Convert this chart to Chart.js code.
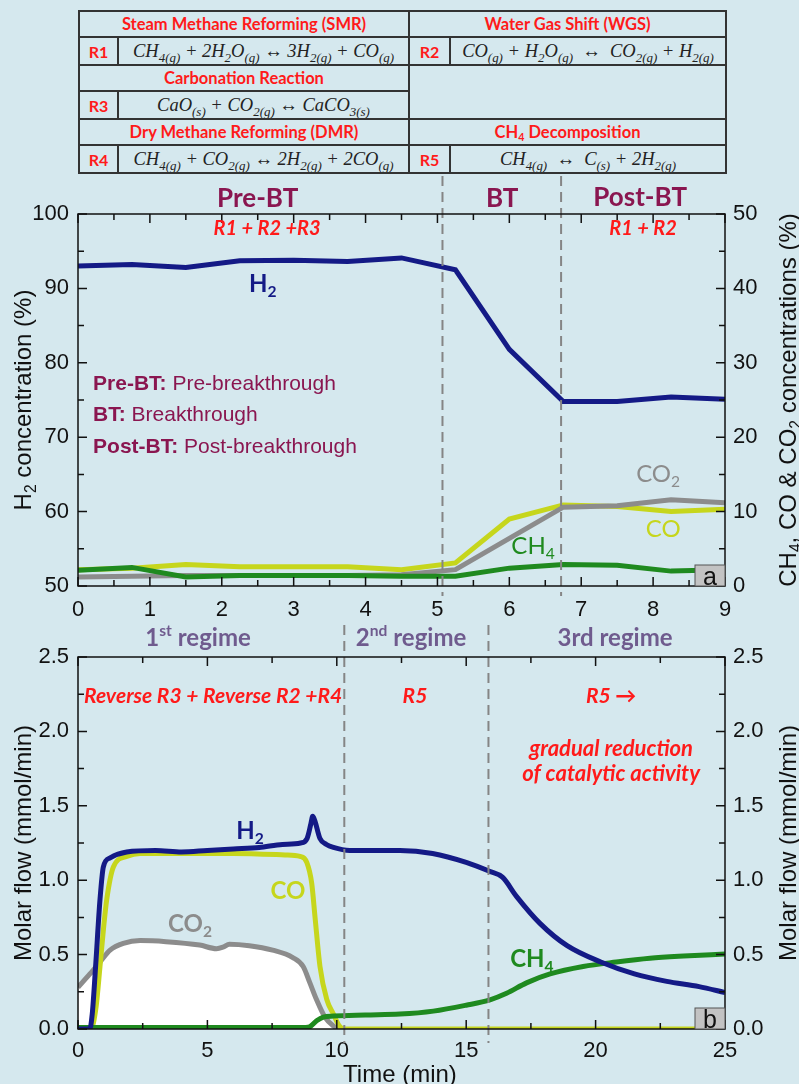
<!DOCTYPE html>
<html>
<head>
<meta charset="utf-8">
<script src="https://cdn.jsdelivr.net/npm/chart.js@4.4.1/dist/chart.umd.min.js"></script>
<style>
  body { margin: 0; background: #d5e8ee; }
  #wrap { position: relative; width: 799px; height: 1084px; background: #d5e8ee; overflow: hidden; }
  #rx { position: absolute; left: 78px; top: 10px; width: 647px; border-collapse: collapse; table-layout: fixed; }
  #rx td { border: 2px solid #333; padding: 0; text-align: center; white-space: nowrap; overflow: hidden; }
  #rx .hd { color: #ff1a1a; font: bold 16.5px Lato, sans-serif; height: 24px; }
  #rx .rn { color: #ff1a1a; font: bold 16px Lato, sans-serif; }
  #rx .eq { font: italic 18.5px "Liberation Serif", serif; color: #222; height: 26px; }
  #rx .eq sub { font-size: 70%; vertical-align: -0.4em; line-height: 0; }
  #rx .hd sub { font-size: 65%; vertical-align: -0.3em; line-height: 0; }
  .box { position: absolute; left: 0; width: 799px; }
</style>
</head>
<body>
<div id="wrap">
  <table id="rx">
    <colgroup><col style="width:39px"><col style="width:291px"><col style="width:41px"><col style="width:276px"></colgroup>
    <tr><td colspan="2" class="hd">Steam Methane Reforming (SMR)</td><td colspan="2" class="hd">Water Gas Shift (WGS)</td></tr>
    <tr><td class="rn">R1</td><td class="eq">CH<sub>4(g)</sub> + 2H<sub>2</sub>O<sub>(g)</sub> ↔ 3H<sub>2(g)</sub> + CO<sub>(g)</sub></td>
        <td class="rn">R2</td><td class="eq">CO<sub>(g)</sub> + H<sub>2</sub>O<sub>(g)</sub> &nbsp;↔&nbsp; CO<sub>2(g)</sub> + H<sub>2(g)</sub></td></tr>
    <tr><td colspan="2" class="hd">Carbonation Reaction</td><td colspan="2" rowspan="2"></td></tr>
    <tr><td class="rn">R3</td><td class="eq">CaO<sub>(s)</sub> + CO<sub>2(g)</sub> ↔ CaCO<sub>3(s)</sub></td></tr>
    <tr><td colspan="2" class="hd">Dry Methane Reforming (DMR)</td><td colspan="2" class="hd">CH<sub>4</sub> Decomposition</td></tr>
    <tr><td class="rn">R4</td><td class="eq">CH<sub>4(g)</sub> + CO<sub>2(g)</sub> ↔ 2H<sub>2(g)</sub> + 2CO<sub>(g)</sub></td>
        <td class="rn">R5</td><td class="eq">CH<sub>4(g)</sub> &nbsp;↔&nbsp; C<sub>(s)</sub> + 2H<sub>2(g)</sub></td></tr>
  </table>
  <div class="box" style="top:176px;height:444px"><canvas id="concChart" width="799" height="444"></canvas></div>
  <div class="box" style="top:620px;height:464px"><canvas id="flowChart" width="799" height="464"></canvas></div>
</div>
<script>
// (a) gas concentrations vs time
const concTime = [0, 0.75, 1.5, 2.25, 3, 3.75, 4.5, 5.25, 6, 6.75, 7.5, 8.25, 9];
const concH2 = [93.0, 93.2, 92.8, 93.7, 93.8, 93.6, 94.1, 92.5, 81.8, 74.8, 74.8, 75.4, 75.1];
const concCO = [2.2, 2.4, 2.9, 2.6, 2.6, 2.6, 2.2, 3.1, 9.0, 10.9, 10.7, 10.0, 10.3];
const concCO2 = [1.2, 1.3, 1.4, 1.4, 1.4, 1.4, 1.5, 2.2, 6.4, 10.6, 10.8, 11.6, 11.2];
const concCH4 = [2.1, 2.5, 1.2, 1.4, 1.4, 1.4, 1.3, 1.3, 2.4, 2.9, 2.8, 2.0, 2.2];
const concPhases = [5.07, 6.72];

// (b) molar flows vs time
const flowTimeH2 = [0, 0.45, 0.55, 0.68, 0.85, 0.98, 1.24, 1.88, 3.0, 4.0, 5.0, 6.0, 7.0, 7.9, 8.6, 8.85, 9.0, 9.07, 9.15, 9.35, 9.6, 9.87, 10.5, 11.5, 12.44, 13.7, 15.0, 15.9, 16.4, 16.95, 17.85, 18.9, 20.2, 21.5, 22.75, 24.0, 25];
const flowH2 = [0, 0, 0.1, 0.42, 0.87, 1.09, 1.15, 1.19, 1.2, 1.19, 1.2, 1.21, 1.22, 1.24, 1.25, 1.28, 1.38, 1.43, 1.4, 1.28, 1.24, 1.22, 1.2, 1.2, 1.2, 1.18, 1.12, 1.06, 1.02, 0.89, 0.71, 0.56, 0.45, 0.37, 0.32, 0.285, 0.245];
const flowTimeCO = [0, 0.5, 0.7, 0.85, 1.0, 1.11, 1.37, 1.88, 2.4, 4, 6, 8, 8.58, 8.84, 9.03, 9.16, 9.35, 9.61, 9.87, 10.1, 10.3, 25];
const flowCO = [0, 0, 0.15, 0.42, 0.7, 0.87, 1.09, 1.16, 1.18, 1.18, 1.18, 1.17, 1.16, 1.12, 0.98, 0.75, 0.42, 0.2, 0.1, 0.02, 0, 0];
const flowTimeCO2 = [0, 0.46, 0.85, 1.24, 1.75, 2.4, 3.4, 4.7, 5.35, 5.6, 5.85, 6.62, 7.52, 8.3, 8.7, 8.96, 9.22, 9.54, 9.87, 10.1, 10.3];
const flowCO2 = [0.28, 0.37, 0.45, 0.53, 0.575, 0.594, 0.587, 0.564, 0.54, 0.55, 0.57, 0.56, 0.53, 0.48, 0.42, 0.31, 0.196, 0.08, 0.02, 0, 0];
const flowTimeCH4 = [0, 8.8, 8.96, 9.22, 9.48, 9.87, 11.1, 12.44, 13.73, 15.0, 15.92, 16.56, 17.33, 18.24, 19.52, 20.8, 22.1, 23.4, 25];
const flowCH4 = [0.01, 0.01, 0.015, 0.055, 0.08, 0.087, 0.094, 0.1, 0.12, 0.16, 0.196, 0.24, 0.31, 0.37, 0.42, 0.45, 0.475, 0.49, 0.504];
const flowRegimes = [10.29, 15.86];

const C_H2 = '#141a86', C_CO = '#c6d61c', C_CO2 = '#8c8c8c', C_CH4 = '#1f8a1f';
const PHASE = '#8a1650', REGIME = '#6f5b8e', RED = '#ff1a1a';
const TICK_FONT = { family: 'Liberation Sans', size: 22 };

function pts(xs, ys) {
  return xs.map((x, i) => ({ x: x, y: ys[i] }));
}

function richRuns(str) {
  const runs = [];
  const re = /([_^])\{([^}]*)\}|([^_^]+)/g;
  let m;
  while ((m = re.exec(str))) {
    if (m[1]) runs.push({ t: m[2], sub: m[1] === '_', sup: m[1] === '^' });
    else runs.push({ t: m[3] });
  }
  return runs;
}

// draws text with sub/superscripts, y is the visual middle of the capitals
function drawText(ctx, str, x, y, o) {
  const runs = typeof str === 'string' ? richRuns(str) : str;
  const size = o.size;
  const fontOf = r => {
    const s = (r.sub || r.sup) ? size * 0.65 : size;
    const bold = r.bold !== undefined ? r.bold : o.bold;
    return `${o.italic ? 'italic ' : ''}${bold ? 'bold' : 'normal'} ${s}px ${o.family || 'Lato'}`;
  };
  let total = 0;
  runs.forEach(r => { ctx.font = fontOf(r); r.w = ctx.measureText(r.t).width; total += r.w; });
  let cx = o.align === 'left' ? x : o.align === 'right' ? x - total : x - total / 2;
  const base = y + size * 0.36;
  ctx.fillStyle = o.color || '#111';
  ctx.textAlign = 'left';
  ctx.textBaseline = 'alphabetic';
  runs.forEach(r => {
    ctx.font = fontOf(r);
    let by = base;
    if (r.sub) by += size * 0.22;
    if (r.sup) by -= size * 0.42;
    ctx.fillText(r.t, cx, by);
    cx += r.w;
  });
}

function decor(spec) {
  return {
    id: 'decor',
    afterDraw(chart) {
      const ctx = chart.ctx;
      const a = chart.chartArea;
      const sx = chart.scales.x, sy = chart.scales.y;
      ctx.save();

      // dashed region separators
      ctx.strokeStyle = '#858585';
      ctx.lineWidth = 2;
      ctx.setLineDash([10, 6]);
      spec.dashes.forEach(v => {
        const px = sx.getPixelForValue(v);
        ctx.beginPath();
        ctx.moveTo(px, spec.dashTop);
        ctx.lineTo(px, a.bottom + spec.dashBelow);
        ctx.stroke();
      });
      ctx.setLineDash([]);

      // inward ticks
      ctx.strokeStyle = '#111';
      ctx.lineWidth = 1.5;
      const n = Math.round((sx.max - sx.min) / spec.xMinor);
      for (let i = 0; i <= n; i++) {
        const px = sx.getPixelForValue(sx.min + i * spec.xMinor);
        const len = i % 2 === 0 ? 9 : 6;
        ctx.beginPath();
        ctx.moveTo(px, a.bottom); ctx.lineTo(px, a.bottom - len);
        ctx.moveTo(px, a.top); ctx.lineTo(px, a.top + len);
        ctx.stroke();
      }
      const m = Math.round((sy.max - sy.min) / spec.yMinor);
      for (let i = 0; i <= m; i++) {
        const py = sy.getPixelForValue(sy.min + i * spec.yMinor);
        const len = i % 2 === 0 ? 9 : 6;
        ctx.beginPath();
        ctx.moveTo(a.left, py); ctx.lineTo(a.left + len, py);
        ctx.moveTo(a.right, py); ctx.lineTo(a.right - len, py);
        ctx.stroke();
      }
      ctx.strokeRect(a.left, a.top, a.right - a.left, a.bottom - a.top);

      // panel letter box
      ctx.fillStyle = '#c3c3c3';
      ctx.fillRect(a.right - 30, a.bottom - 21, 30, 21);
      ctx.lineWidth = 1;
      ctx.strokeStyle = '#555';
      ctx.strokeRect(a.right - 30, a.bottom - 21, 30, 21);
      drawText(ctx, spec.letter, a.right - 15, a.bottom - 10, { size: 25, family: 'Liberation Sans' });

      // annotations in data coordinates
      spec.notes.forEach(nt => {
        drawText(ctx, nt.t, sx.getPixelForValue(nt.x), sy.getPixelForValue(nt.y), nt);
      });

      // axis titles
      const mid = (a.top + a.bottom) / 2;
      [[spec.leftTitle, 22], [spec.rightTitle, 787]].forEach(([t, px]) => {
        ctx.save();
        ctx.translate(px, mid);
        ctx.rotate(-Math.PI / 2);
        drawText(ctx, t, 0, 0, { size: 24, family: 'Liberation Sans' });
        ctx.restore();
      });
      if (spec.xTitle) {
        drawText(ctx, spec.xTitle.t, sx.getPixelForValue(spec.xTitle.x), sy.getPixelForValue(spec.xTitle.y), { size: 24, family: 'Liberation Sans' });
      }
      ctx.restore();
    }
  };
}

function axis(min, max, step, pos, width, pad, fmt) {
  return {
    type: 'linear', position: pos, min: min, max: max,
    grid: { display: false, drawTicks: false },
    border: { display: false },
    ticks: { stepSize: step, font: TICK_FONT, color: '#111', padding: pad, callback: fmt || (v => v) },
    afterFit: s => { if (pos === 'bottom') s.height = width; else s.width = width; }
  };
}

function line(label, data, color, yAxis, smooth, order) {
  return {
    label: label, data: data, yAxisID: yAxis,
    borderColor: color, borderWidth: 5, pointRadius: 0, fill: false,
    cubicInterpolationMode: smooth ? 'monotone' : 'default', tension: 0, order: order
  };
}

const concNotes = [
  { t: 'Pre-BT', x: 2.5, y: 102.15, size: 26, bold: true, color: PHASE },
  { t: 'BT', x: 5.9, y: 102.15, size: 26, bold: true, color: PHASE },
  { t: 'Post-BT', x: 7.82, y: 102.3, size: 26, bold: true, color: PHASE },
  { t: 'R1 + R2 +R3', x: 2.63, y: 98.1, size: 20, bold: true, italic: true, color: RED },
  { t: 'R1 + R2', x: 7.86, y: 98.1, size: 20, bold: true, italic: true, color: RED },
  { t: 'H_{2}', x: 2.57, y: 90.7, size: 24, bold: true, color: C_H2 },
  { t: [{ t: 'Pre-BT:', bold: true }, { t: ' Pre-breakthrough', bold: false }], x: 0.21, y: 77.3, size: 21, family: 'Liberation Sans', align: 'left', color: PHASE },
  { t: [{ t: 'BT:', bold: true }, { t: ' Breakthrough', bold: false }], x: 0.21, y: 73.25, size: 21, family: 'Liberation Sans', align: 'left', color: PHASE },
  { t: [{ t: 'Post-BT:', bold: true }, { t: ' Post-breakthrough', bold: false }], x: 0.21, y: 68.95, size: 21, family: 'Liberation Sans', align: 'left', color: PHASE },
  { t: 'CO_{2}', x: 8.07, y: 65.2, size: 24, color: C_CO2 },
  { t: 'CO', x: 8.14, y: 57.8, size: 24, color: C_CO },
  { t: 'CH_{4}', x: 6.33, y: 55.5, size: 24, color: C_CH4 }
];

const flowNotes = [
  { t: '1^{st} regime', x: 4.64, y: 2.63, size: 24, bold: true, color: REGIME },
  { t: '2^{nd} regime', x: 12.87, y: 2.63, size: 24, bold: true, color: REGIME },
  { t: '3rd regime', x: 20.75, y: 2.63, size: 24, bold: true, color: REGIME },
  { t: 'Reverse R3 + Reverse R2 +R4', x: 5.22, y: 2.245, size: 21, bold: true, italic: true, color: RED },
  { t: 'R5', x: 13.02, y: 2.245, size: 21, bold: true, italic: true, color: RED },
  { t: 'R5 \u2192', x: 20.6, y: 2.245, size: 21, bold: true, italic: true, color: RED },
  { t: 'gradual reduction', x: 20.6, y: 1.89, size: 22, bold: true, italic: true, color: RED },
  { t: 'of catalytic activity', x: 20.6, y: 1.72, size: 22, bold: true, italic: true, color: RED },
  { t: 'H_{2}', x: 6.65, y: 1.337, size: 24, bold: true, color: C_H2 },
  { t: 'CO', x: 8.11, y: 0.934, size: 24, bold: true, color: C_CO },
  { t: 'CO_{2}', x: 4.33, y: 0.712, size: 24, bold: true, color: C_CO2 },
  { t: 'CH_{4}', x: 17.54, y: 0.477, size: 24, bold: true, color: C_CH4 }
];

new Chart(document.getElementById('concChart'), {
  type: 'line',
  data: {
    datasets: [
      line('H2', pts(concTime, concH2), C_H2, 'y', false, 1),
      line('CH4', pts(concTime, concCH4), C_CH4, 'y2', false, 2),
      line('CO2', pts(concTime, concCO2), C_CO2, 'y2', false, 3),
      line('CO', pts(concTime, concCO), C_CO, 'y2', false, 4)
    ]
  },
  options: {
    responsive: false, animation: false,
    layout: { padding: { top: 38, left: 0, right: 0, bottom: 0 } },
    plugins: { legend: { display: false }, tooltip: { enabled: false } },
    scales: {
      x: axis(0, 9, 1, 'bottom', 34, 11),
      y: axis(50, 100, 10, 'left', 78, 9),
      y2: axis(0, 50, 10, 'right', 74, 8)
    }
  },
  plugins: [decor({
    dashes: concPhases, dashTop: 0, dashBelow: 10, xMinor: 0.5, yMinor: 5, letter: 'a',
    notes: concNotes,
    leftTitle: 'H_{2} concentration (%)',
    rightTitle: 'CH_{4}, CO & CO_{2} concentrations (%)'
  })]
});

const oneDec = v => v.toFixed(1);
new Chart(document.getElementById('flowChart'), {
  type: 'line',
  data: {
    datasets: [
      line('H2', pts(flowTimeH2, flowH2), C_H2, 'y', true, 1),
      line('CH4', pts(flowTimeCH4, flowCH4), C_CH4, 'y', true, 2),
      line('CO', pts(flowTimeCO, flowCO), C_CO, 'y', true, 3),
      Object.assign(line('CO2', pts(flowTimeCO2, flowCO2), C_CO2, 'y', true, 4), { fill: 'origin', backgroundColor: '#ffffff' })
    ]
  },
  options: {
    responsive: false, animation: false,
    layout: { padding: { top: 37, left: 0, right: 0, bottom: 0 } },
    plugins: { legend: { display: false }, tooltip: { enabled: false }, filler: { drawTime: 'beforeDatasetsDraw' } },
    scales: {
      x: axis(0, 25, 5, 'bottom', 55, 9),
      y: axis(0, 2.5, 0.5, 'left', 78, 9, oneDec),
      y2: axis(0, 2.5, 0.5, 'right', 74, 8, oneDec)
    }
  },
  plugins: [decor({
    dashes: flowRegimes, dashTop: 5, dashBelow: 14, xMinor: 2.5, yMinor: 0.25, letter: 'b',
    notes: flowNotes,
    leftTitle: 'Molar flow (mmol/min)',
    rightTitle: 'Molar flow (mmol/min)',
    xTitle: { t: 'Time (min)', x: 12.44, y: -0.3 }
  })]
});
</script>
</body>
</html>
